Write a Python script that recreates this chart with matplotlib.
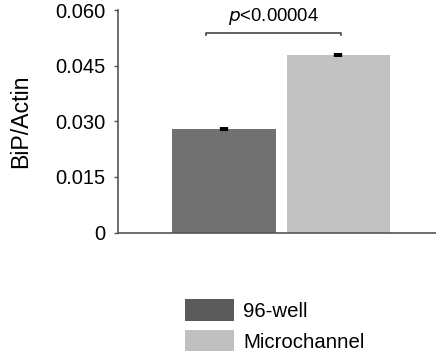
import matplotlib
matplotlib.use("Agg")
import matplotlib.pyplot as plt
from matplotlib.patches import Patch

plt.rcParams['font.family'] = ['Liberation Sans', 'DejaVu Sans']

categories = ["96-well", "Microchannel"]
values = [0.0279, 0.0480]
errors = [0.0005, 0.0005]
bar_colors = ["#707170", "#c1c2c1"]
legend_colors = ["#5a5a5a", "#c0c0c0"]
yticks = [0, 0.015, 0.030, 0.045, 0.060]
ytick_labels = ["0", "0.015", "0.030", "0.045", "0.060"]
p_text = "p<0.00004"

fig = plt.figure(figsize=(4.36, 3.6), dpi=100)
ax = fig.add_axes([118/436, 1-232.5/360, 1-118/436, (232.5-10.3)/360])

x = list(range(len(categories)))
ax.bar(x, values, width=0.904, color=bar_colors, edgecolor='none')
ax.errorbar(x, values, yerr=errors, fmt='none', ecolor='black', elinewidth=6, capsize=0)

ax.set_xlim(-0.92, 1.85)
ax.set_ylim(0, 0.060)
ax.set_yticks(yticks)
ax.set_yticklabels(ytick_labels, fontsize=14.5)
ax.set_xticks([])
ax.tick_params(axis='y', length=3, width=1, color='#555555', pad=6)
ax.set_ylabel("BiP/Actin", fontsize=16.7, labelpad=17)
for s in ['top', 'right']:
    ax.spines[s].set_visible(False)
for s in ['left', 'bottom']:
    ax.spines[s].set_color('#555555')
    ax.spines[s].set_linewidth(1.2)

# significance bracket
by = 0.0538
ax.plot([-0.15, -0.15, 1.02, 1.02], [by - 0.0006, by, by, by - 0.0006],
        color='#444444', lw=1.2, clip_on=False)
ax.text(0.43, 0.0555, "$p$<0.00004", ha='center', va='bottom', fontsize=13.3)

handles = [Patch(facecolor=c, edgecolor='none') for c in legend_colors]
fig.legend(handles, categories, loc='upper left', bbox_to_anchor=(185/436, 1-299/360),
           frameon=False, fontsize=14.7, handlelength=2.4, handleheight=1.25,
           labelspacing=0.45, handletextpad=0.45, borderpad=0, borderaxespad=0)

fig.savefig("out.png", dpi=100)
